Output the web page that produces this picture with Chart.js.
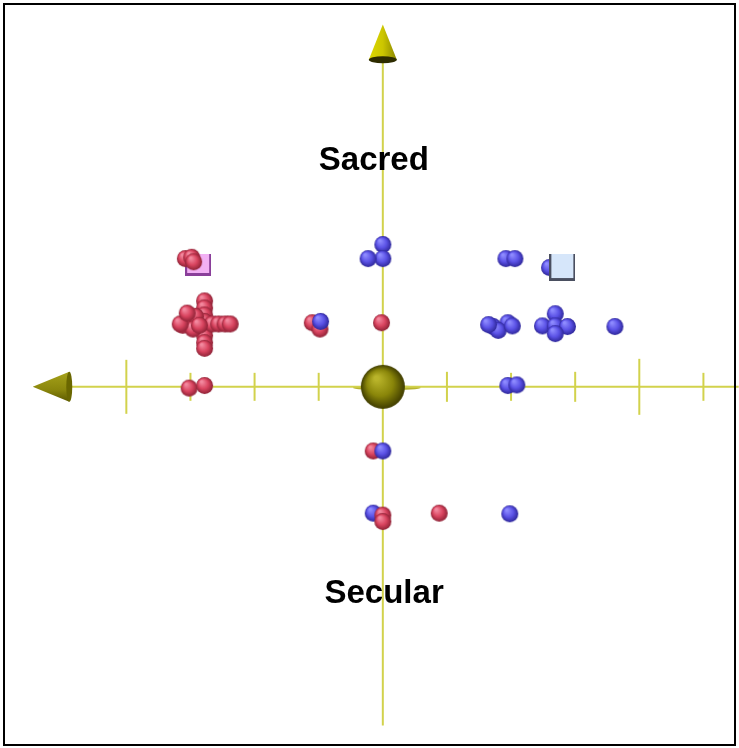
<!DOCTYPE html>
<html>
<head>
<meta charset="utf-8">
<script src="https://cdn.jsdelivr.net/npm/chart.js@4"></script>
<style>
  body { margin: 0; background: #fff; }
</style>
</head>
<body>
<canvas id="Chart" width="739" height="748"></canvas>
<script>
// data (axis units, origin at the centre sphere)
const sacredPoints = [
  // top-left pair
  { x: -3.08, y: 2.0 }, { x: -2.98, y: 2.02 }, { x: -2.95, y: 1.95 },
  // cross shaped cluster
  { x: -2.78, y: 1.34 }, { x: -2.78, y: 1.23 }, { x: -2.78, y: 1.12 }, { x: -2.78, y: 1.02 },
  { x: -2.78, y: 0.91 }, { x: -2.78, y: 0.8 }, { x: -2.78, y: 0.69 }, { x: -2.78, y: 0.6 },
  { x: -2.66, y: 0.98 }, { x: -2.56, y: 0.98 }, { x: -2.46, y: 0.98 }, { x: -2.38, y: 0.98 },
  { x: -3.12, y: 0.96 }, { x: -3.02, y: 1.06 }, { x: -2.92, y: 1.1 }, { x: -2.96, y: 0.9 },
  { x: -3.16, y: 0.98 }, { x: -2.86, y: 0.96 }, { x: -3.05, y: 1.15 },
  // on the horizontal axis
  { x: -3.02, y: -0.02 }, { x: -2.78, y: 0.02 },
  // middle
  { x: -1.1, y: 1.0 }, { x: -0.98, y: 0.9 },
  { x: -0.02, y: 1.0 },
  { x: -0.15, y: -1.0 },
  { x: 0.88, y: -1.97 },
];
const secularPoints = [
  { x: 0.0, y: 2.22 }, { x: 0.0, y: 2.0 }, { x: -0.23, y: 2.0 },
  { x: 1.92, y: 2.0 }, { x: 2.06, y: 2.0 },
  { x: 2.6, y: 1.86 },
  { x: 1.72, y: 0.94 }, { x: 1.95, y: 1.0 }, { x: 1.8, y: 0.88 }, { x: 1.65, y: 0.97 }, { x: 2.02, y: 0.95 },
  { x: 2.69, y: 1.14 }, { x: 2.49, y: 0.95 }, { x: 2.69, y: 0.95 }, { x: 2.88, y: 0.94 }, { x: 2.69, y: 0.83 },
  { x: 3.62, y: 0.94 },
  { x: 1.95, y: 0.02 }, { x: 2.09, y: 0.03 },
  { x: 1.98, y: -1.98 },
  { x: -0.97, y: 1.02 },
  { x: 0.0, y: -1.0 },
  { x: -0.15, y: -1.97 },
];
const frontSacred = [{ x: 0.0, y: -2.0 }, { x: 0.0, y: -2.1 }];
const sacredMean = [{ x: -2.88, y: 1.9 }];
const secularMean = [{ x: 2.8, y: 1.86 }];
const origin = [{ x: 0, y: 0 }];

const axisX = [-4.89, 5.55];
const axisY = [-5.28, 5.1];
const tickValues = [-4, -3, -2, -1, 1, 2, 3, 4, 5];
const tickHalf = [27, 14, 14, 14, 15, 14, 15, 28, 14];
const axisLabels = [
  { text: "Sacred", x: -0.14, y: 3.38 },
  { text: "Secular", x: 0.02, y: -3.37 },
];

function sphere(r, light, mid, dark) {
  const c = document.createElement("canvas");
  c.width = c.height = 2 * r + 2;
  const g = c.getContext("2d");
  const grad = g.createRadialGradient(r * 0.75, r * 0.65, r * 0.1, r + 1, r + 1, r);
  grad.addColorStop(0, light);
  grad.addColorStop(0.55, mid);
  grad.addColorStop(1, dark);
  g.fillStyle = grad;
  g.beginPath();
  g.arc(r + 1, r + 1, r, 0, Math.PI * 2);
  g.fill();
  return c;
}

function cube(w, h, face, edge) {
  const c = document.createElement("canvas");
  c.width = w;
  c.height = h;
  const g = c.getContext("2d");
  g.fillStyle = edge;
  g.fillRect(0, 0, w, h);
  g.fillStyle = face;
  g.fillRect(2, 0, w - 4, h - 3);
  return c;
}

const redBall = sphere(8.5, "#f38aa0", "#d9445f", "#8e2236");
const blueBall = sphere(8.5, "#8f8cff", "#5b52e6", "#2e279a");
const bigBall = sphere(22, "#b9b42a", "#8a860a", "#3f3c00");
const pinkCube = cube(26, 22, "#f2b0f4", "#8a3f9a");
const iceCube = cube(26, 27, "#d6e6fa", "#4a4f60");

const decor = {
  id: "decor",
  beforeDraw(chart) {
    const { ctx, scales } = chart;
    const sx = scales.x, sy = scales.y;
    const y0 = sy.getPixelForValue(0);
    ctx.save();
    ctx.strokeStyle = "#d2d24c";
    ctx.lineWidth = 2;
    tickValues.forEach((t, i) => {
      const px = sx.getPixelForValue(t);
      ctx.beginPath();
      ctx.moveTo(px, y0 - tickHalf[i]);
      ctx.lineTo(px, y0 + tickHalf[i]);
      ctx.stroke();
    });
    ctx.restore();
  },
  beforeDatasetsDraw(chart) {
    // thin disk rim around the centre sphere
    const { ctx, scales } = chart;
    const x0 = scales.x.getPixelForValue(0), y0 = scales.y.getPixelForValue(0);
    ctx.save();
    ctx.fillStyle = "#b8b430";
    ctx.beginPath();
    ctx.ellipse(x0 + 4, y0 + 1, 34, 2.5, 0, 0, Math.PI * 2);
    ctx.fill();
    ctx.restore();
  },
  afterDatasetsDraw(chart) {
    const { ctx, scales } = chart;
    const sx = scales.x, sy = scales.y;
    const x0 = sx.getPixelForValue(0), y0 = sy.getPixelForValue(0);
    ctx.save();
    // top cone
    const tipT = sy.getPixelForValue(5.65), baseT = sy.getPixelForValue(axisY[1]);
    let gr = ctx.createLinearGradient(x0 - 14, 0, x0 + 14, 0);
    gr.addColorStop(0, "#dcd800");
    gr.addColorStop(0.5, "#ccc600");
    gr.addColorStop(1, "#8a8600");
    ctx.fillStyle = gr;
    ctx.beginPath();
    ctx.moveTo(x0, tipT);
    ctx.lineTo(x0 + 14, baseT);
    ctx.lineTo(x0 - 14, baseT);
    ctx.closePath();
    ctx.fill();
    ctx.fillStyle = "#2e2c00";
    ctx.beginPath();
    ctx.ellipse(x0, baseT, 14, 3.5, 0, 0, Math.PI * 2);
    ctx.fill();
    // left cone
    const tipL = sx.getPixelForValue(-5.46), baseL = sx.getPixelForValue(axisX[0]);
    gr = ctx.createLinearGradient(0, y0 - 15, 0, y0 + 15);
    gr.addColorStop(0, "#a6a21a");
    gr.addColorStop(0.6, "#8a860c");
    gr.addColorStop(1, "#5c5900");
    ctx.fillStyle = gr;
    ctx.beginPath();
    ctx.moveTo(tipL, y0);
    ctx.lineTo(baseL, y0 - 15);
    ctx.lineTo(baseL, y0 + 15);
    ctx.closePath();
    ctx.fill();
    ctx.fillStyle = "#6a6700";
    ctx.beginPath();
    ctx.ellipse(baseL, y0, 3, 15, 0, 0, Math.PI * 2);
    ctx.fill();
    // labels
    ctx.fillStyle = "#000";
    ctx.font = "bold 33px 'Liberation Sans', Arial, sans-serif";
    ctx.textAlign = "center";
    ctx.textBaseline = "alphabetic";
    axisLabels.forEach((l) => {
      ctx.fillText(l.text, sx.getPixelForValue(l.x), sy.getPixelForValue(l.y));
    });
    // frame
    ctx.strokeStyle = "#000";
    ctx.lineWidth = 2;
    ctx.strokeRect(4, 4, 731, 741);
    ctx.restore();
  },
};

const ctx = document.getElementById("Chart");
const unit = 65;

new Chart(ctx, {
  type: "scatter",
  data: {
    datasets: [
      {
        data: axisX.map((v) => ({ x: v, y: 0 })),
        showLine: true, borderColor: "#d2d24c", borderWidth: 2, pointRadius: 0, order: 20,
      },
      {
        data: axisY.map((v) => ({ x: 0, y: v })),
        showLine: true, borderColor: "#d2d24c", borderWidth: 2, pointRadius: 0, order: 20,
      },
      { data: origin, pointStyle: bigBall, order: 10 },
      { data: sacredMean, pointStyle: pinkCube, order: 9 },
      { data: sacredPoints, pointStyle: redBall, order: 8 },
      { data: secularPoints, pointStyle: blueBall, order: 7 },
      { data: secularMean, pointStyle: iceCube, order: 6 },
      { data: frontSacred, pointStyle: redBall, order: 5 },
    ],
  },
  options: {
    responsive: false,
    animation: false,
    devicePixelRatio: 1,
    layout: { padding: 0 },
    clip: false,
    plugins: { legend: { display: false }, tooltip: { enabled: false } },
    scales: {
      x: { type: "linear", display: false, min: -383 / unit, max: 356 / unit },
      y: { type: "linear", display: false, min: -361 / unit, max: 387 / unit },
    },
  },
  plugins: [decor],
});
</script>
</body>
</html>
